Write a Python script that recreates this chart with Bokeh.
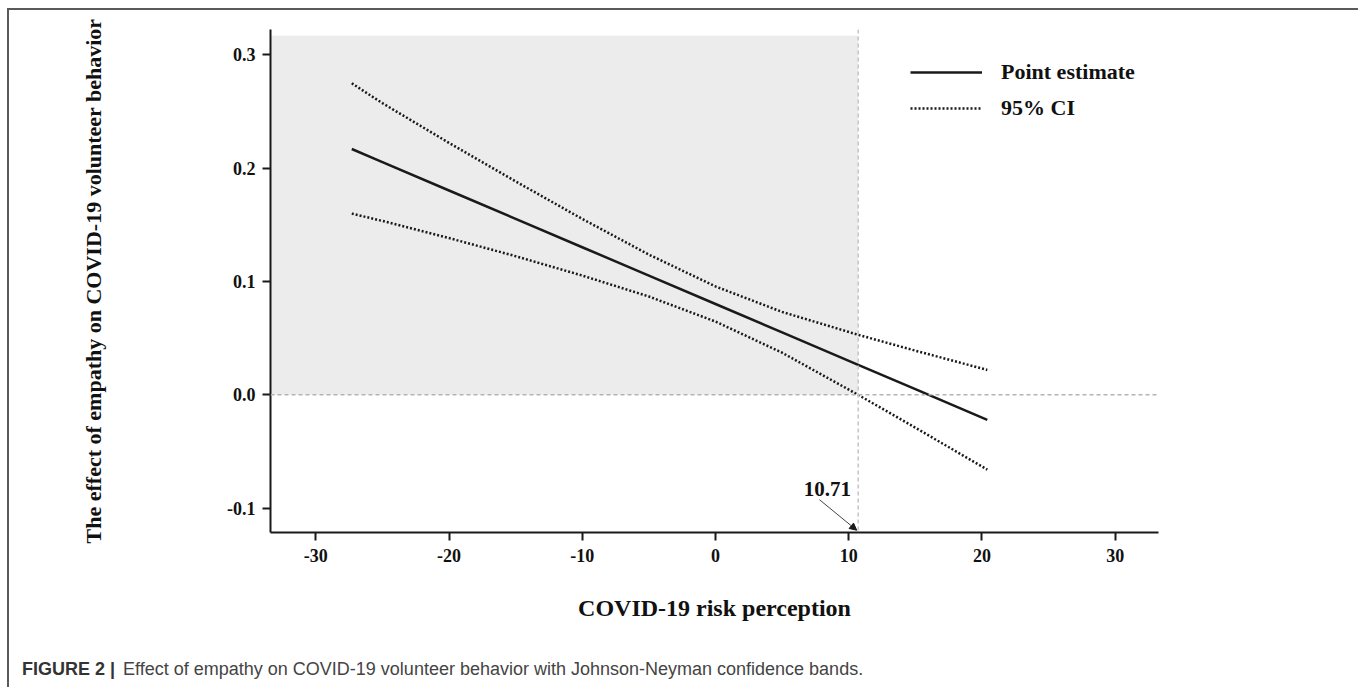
from bokeh.plotting import figure
from bokeh.layouts import column
from bokeh.models import (FixedTicker, NumeralTickFormatter, Span, BoxAnnotation, Label, Div,
                          Arrow, NormalHead, Legend, LegendItem, ColumnDataSource, Range1d)
from bokeh.embed import file_html
from bokeh.resources import INLINE

# ---- data ----
risk = [-27.3, -25, -20, -15, -10, -5, 0, 5, 10.71, 15, 20.4]
point_est = [0.217, 0.2055, 0.1804, 0.1554, 0.1303, 0.1053, 0.0802, 0.0552, 0.0265, 0.005, -0.022]
ci_upper = [0.275, 0.2575, 0.2224, 0.1884, 0.1553, 0.1238, 0.0957, 0.0732, 0.053, 0.039, 0.022]
ci_lower = [0.160, 0.1535, 0.1384, 0.1224, 0.1053, 0.0868, 0.0647, 0.0372, 0.0, -0.029, -0.066]
x_ticks = [-30, -20, -10, 0, 10, 20, 30]
y_ticks = [-0.1, 0.0, 0.1, 0.2, 0.3]
jn_point = 10.71
jn_label = "10.71"
legend_labels = ["Point estimate", "95% CI"]
x_title = "COVID-19 risk perception"
y_title = "The effect of empathy on COVID-19 volunteer behavior"
caption_head = "FIGURE 2 |"
caption_body = "Effect of empathy on COVID-19 volunteer behavior with Johnson-Neyman confidence bands."

SERIF = "Liberation Serif"
SANS = "Liberation Sans"
INK = "#1a1a1a"

p = figure(width=1358, height=645, output_backend="svg", toolbar_location=None,
           x_range=Range1d(-33.4, 33.25), y_range=Range1d(-0.1215, 0.3225),
           min_border_left=270, min_border_right=200, min_border_top=29, min_border_bottom=113)
p.border_fill_color = None
p.outline_line_color = None
p.grid.visible = False

# shaded region of significance
p.add_layout(BoxAnnotation(right=jn_point, bottom=0, top=0.317, fill_color="#ececec",
                           fill_alpha=1, line_color=None, level="underlay"))
p.add_layout(Span(location=0, dimension="width", line_color="#b4b4b4", line_width=1.5,
                  line_dash="4 3"))
p.add_layout(Span(location=jn_point, dimension="height", line_color="#c4c4c4", line_width=1.5,
                  line_dash="4 3"))

src = ColumnDataSource(dict(x=risk, pe=point_est, up=ci_upper, lo=ci_lower))
r_pe = p.line("x", "pe", source=src, line_color=INK, line_width=2.5)
r_up = p.line("x", "up", source=src, line_color=INK, line_width=2.5, line_dash="2 2")
r_lo = p.line("x", "lo", source=src, line_color=INK, line_width=2.5, line_dash="2 2")

legend = Legend(items=[LegendItem(label=legend_labels[0], renderers=[r_pe]),
                       LegendItem(label=legend_labels[1], renderers=[r_up])],
                location=(640, 411), border_line_color=None, background_fill_alpha=0,
                label_text_font=SERIF, label_text_font_style="bold",
                label_text_font_size="22px", label_text_color="#111",
                glyph_width=72, glyph_height=20, label_height=20, label_standoff=19,
                padding=0, margin=0, spacing=10)
p.add_layout(legend)

# JN annotation
p.add_layout(Label(x=8.4, y=-0.0835, text=jn_label, text_align="center",
                   text_baseline="alphabetic", text_font=SERIF, text_font_style="bold",
                   text_font_size="21px", text_color="#111"))
p.add_layout(Arrow(x_start=7.8, y_start=-0.0925, x_end=10.6, y_end=-0.1195,
                   line_color="#444", line_width=1,
                   end=NormalHead(size=7, fill_color=INK, line_color=INK)))

# axes
for ax in (p.xaxis[0], p.yaxis[0]):
    ax.axis_line_width = 2
    ax.axis_line_color = INK
    ax.major_tick_line_width = 2
    ax.major_tick_line_color = INK
    ax.major_tick_out = 8
    ax.major_tick_in = 0
    ax.minor_tick_line_color = None
    ax.major_label_text_font = SERIF
    ax.major_label_text_font_style = "bold"
    ax.major_label_text_font_size = "18px"
    ax.major_label_text_color = "#111"
    ax.axis_label_text_font = SERIF
    ax.axis_label_text_font_style = "bold"
    ax.axis_label_text_color = "#111"

p.xaxis.ticker = FixedTicker(ticks=x_ticks)
p.yaxis.ticker = FixedTicker(ticks=y_ticks)
p.xaxis.formatter = NumeralTickFormatter(format="0")
p.yaxis.formatter = NumeralTickFormatter(format="0.0")
p.xaxis.axis_label = x_title
p.yaxis.axis_label = y_title
p.xaxis.axis_label_text_font_size = "24px"
p.yaxis.axis_label_text_font_size = "22px"
p.xaxis.major_label_standoff = 8
p.yaxis.major_label_standoff = 7
p.xaxis.axis_label_standoff = 30
p.yaxis.axis_label_standoff = 118

# caption
cap = Div(width=1358, height=42,
          text=('<div style="padding:9px 0 0 17px; font-family:\'Liberation Sans\', sans-serif; '
                'font-size:18px; line-height:20px; color:#444; white-space:nowrap;">'
                '<b style="color:#333; margin-right:3px;">' + caption_head + '</b> '
                + caption_body + '</div>'))

layout = column(p, cap, spacing=0)
layout.styles = {"box-shadow": ("inset 7px 0 0 0 #fff, inset 0 8px 0 0 #fff, inset -2px 0 0 0 #fff, "
                                "inset 9px 0 0 0 #5a5a5a, inset 0 10px 0 0 #5a5a5a, "
                                "inset -4px 0 0 0 #5a5a5a")}

open("out.html", "w").write(file_html(layout, INLINE))
